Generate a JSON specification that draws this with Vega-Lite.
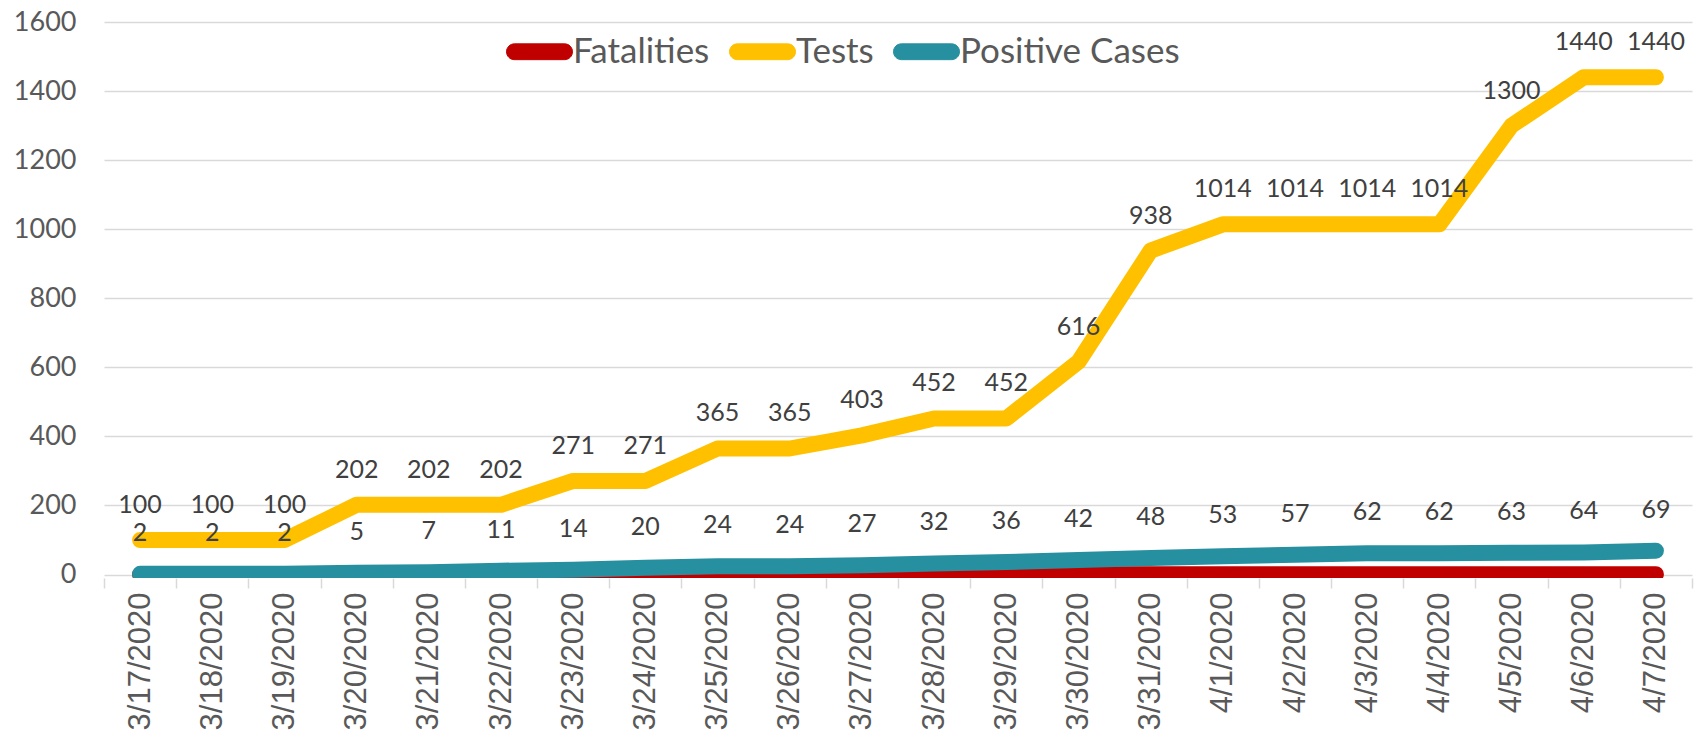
{
  "$schema": "https://vega.github.io/schema/vega-lite/v6.json",
  "width": 1588,
  "height": 556,
  "autosize": {"type": "none"},
  "padding": {"left": 104, "top": 22, "right": 2, "bottom": 158},
  "background": "white",
  "config": {"view": {"stroke": null}, "font": "Lato"},
  "data": {"values": [
    {"date": "3/17/2020", "Fatalities": 0, "Tests": 100, "Positive Cases": 2},
    {"date": "3/18/2020", "Fatalities": 0, "Tests": 100, "Positive Cases": 2},
    {"date": "3/19/2020", "Fatalities": 0, "Tests": 100, "Positive Cases": 2},
    {"date": "3/20/2020", "Fatalities": 0, "Tests": 202, "Positive Cases": 5},
    {"date": "3/21/2020", "Fatalities": 0, "Tests": 202, "Positive Cases": 7},
    {"date": "3/22/2020", "Fatalities": 0, "Tests": 202, "Positive Cases": 11},
    {"date": "3/23/2020", "Fatalities": 0, "Tests": 271, "Positive Cases": 14},
    {"date": "3/24/2020", "Fatalities": 1, "Tests": 271, "Positive Cases": 20},
    {"date": "3/25/2020", "Fatalities": 1, "Tests": 365, "Positive Cases": 24},
    {"date": "3/26/2020", "Fatalities": 1, "Tests": 365, "Positive Cases": 24},
    {"date": "3/27/2020", "Fatalities": 1, "Tests": 403, "Positive Cases": 27},
    {"date": "3/28/2020", "Fatalities": 1, "Tests": 452, "Positive Cases": 32},
    {"date": "3/29/2020", "Fatalities": 1, "Tests": 452, "Positive Cases": 36},
    {"date": "3/30/2020", "Fatalities": 1, "Tests": 616, "Positive Cases": 42},
    {"date": "3/31/2020", "Fatalities": 1, "Tests": 938, "Positive Cases": 48},
    {"date": "4/1/2020", "Fatalities": 1, "Tests": 1014, "Positive Cases": 53},
    {"date": "4/2/2020", "Fatalities": 1, "Tests": 1014, "Positive Cases": 57},
    {"date": "4/3/2020", "Fatalities": 1, "Tests": 1014, "Positive Cases": 62},
    {"date": "4/4/2020", "Fatalities": 1, "Tests": 1014, "Positive Cases": 62},
    {"date": "4/5/2020", "Fatalities": 1, "Tests": 1300, "Positive Cases": 63},
    {"date": "4/6/2020", "Fatalities": 1, "Tests": 1440, "Positive Cases": 64},
    {"date": "4/7/2020", "Fatalities": 1, "Tests": 1440, "Positive Cases": 69}
  ]},
  "transform": [{"fold": ["Fatalities", "Tests", "Positive Cases"], "as": ["series", "value"]}],
  "encoding": {
    "x": {
      "field": "date", "type": "nominal", "sort": null, "bandPosition": 0.5,
      "scale": {"type": "band", "paddingInner": 0, "paddingOuter": 0},
      "axis": {
        "title": null, "labelAngle": -90, "labelFontSize": 31, "labelFont": "Liberation Sans",
        "labelColor": "#595959", "labelPadding": 4, "tickBand": "extent", "ticks": true,
        "tickSize": 10, "tickColor": "#D9D9D9", "tickWidth": 1.5,
        "domain": false, "grid": false
      }
    },
    "y": {
      "field": "value", "type": "quantitative",
      "scale": {"domain": [-10, 1600], "nice": false, "zero": false},
      "axis": {
        "title": null, "values": [0, 200, 400, 600, 800, 1000, 1200, 1400, 1600], "format": "d",
        "labelFontSize": 27, "labelColor": "#595959", "labelPadding": 28,
        "ticks": false, "domain": false, "gridColor": "#D9D9D9", "gridWidth": 1.5
      }
    }
  },
  "layer": [
    {
      "mark": {"type": "line", "strokeWidth": 16, "strokeCap": "round", "strokeJoin": "round", "clip": true},
      "encoding": {
        "color": {
          "field": "series", "type": "nominal",
          "scale": {"domain": ["Fatalities", "Tests", "Positive Cases"], "range": ["#C00000", "#FFC000", "#2690A0"]},
          "legend": {
            "title": null, "orient": "none", "direction": "horizontal", "padding": 0,
            "legendX": 402, "legendY": -4,
            "symbolType": "M -0.76 -0.24 L 0.76 -0.24 A 0.24 0.24 0 0 1 0.76 0.24 L -0.76 0.24 A 0.24 0.24 0 0 1 -0.76 -0.24 Z",
            "symbolSize": 4356, "symbolStrokeWidth": 1, "labelFontSize": 35, "labelColor": "#595959",
            "labelFont": "Lato", "labelOffset": 0, "columnPadding": 17, "labelLimit": 0,
            "encode": {"symbols": {"update": {"fill": {"scale": "color", "field": "value"}, "fillOpacity": {"value": 1}}}}
          }
        }
      }
    },
    {
      "transform": [{"filter": "datum.series === 'Tests'"}],
      "mark": {"type": "text", "dy": -35, "fontSize": 25, "color": "#404040", "baseline": "middle"},
      "encoding": {"text": {"field": "value", "type": "quantitative", "format": "d"}}
    },
    {
      "transform": [{"filter": "datum.series === 'Positive Cases'"}],
      "mark": {"type": "text", "dy": -41, "fontSize": 25, "color": "#404040", "baseline": "middle"},
      "encoding": {"text": {"field": "value", "type": "quantitative", "format": "d"}}
    }
  ]
}
